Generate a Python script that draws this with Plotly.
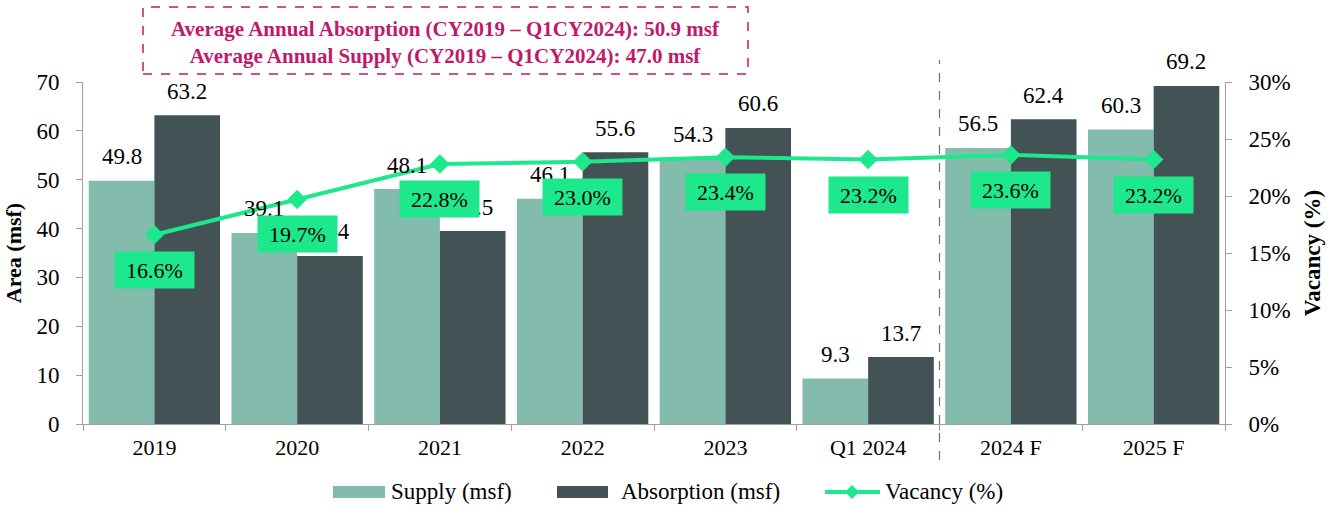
import plotly.graph_objects as go

categories = ["2019", "2020", "2021", "2022", "2023", "Q1 2024", "2024 F", "2025 F"]
supply = [49.8, 39.1, 48.1, 46.1, 54.3, 9.3, 56.5, 60.3]
absorption = [63.2, 34.4, 39.5, 55.6, 60.6, 13.7, 62.4, 69.2]
vacancy = [16.6, 19.7, 22.8, 23.0, 23.4, 23.2, 23.6, 23.2]
series_names = ["Supply (msf)", "Absorption (msf)", "Vacancy (%)"]

FONT = "Liberation Serif"
SUP_C = "#83bbad"
ABS_C = "#435255"
VAC_C = "#1de88c"
BOX_C = "#c2186b"

W, H = 1337, 506
ML, MR, MT, MB = 83, 112, 82, 82
PW, PH = W - ML - MR, H - MT - MB
BARGAP = 0.08
BAR_PX = PW / len(categories) * (1 - BARGAP) / 2


def px_x(p):
    return (p - ML) / PW


def px_y(p):
    return (H - MB - p) / PH


fig = go.Figure()
fig.add_trace(go.Bar(x=categories, y=supply, name=series_names[0], marker_color=SUP_C,
                     marker_line_width=0, showlegend=False))
fig.add_trace(go.Bar(x=categories, y=absorption, name=series_names[1], marker_color=ABS_C,
                     marker_line_width=0, showlegend=False))
fig.add_trace(go.Scatter(
    x=categories, y=vacancy, name=series_names[2], yaxis="y2", mode="lines+markers",
    line=dict(color=VAC_C, width=4), marker=dict(symbol="diamond", size=15, color=VAC_C),
    cliponaxis=False, showlegend=False,
))

# bar value labels (placed above each bar of the group)
for i, (s, a) in enumerate(zip(supply, absorption)):
    for val, sh in ((s, -BAR_PX / 2), (a, BAR_PX / 2)):
        fig.add_annotation(x=i, y=val, xref="x", yref="y", xshift=sh, yshift=24,
                           text=f"{val:.1f}", showarrow=False, xanchor="center", yanchor="middle",
                           font=dict(size=23, color="black", family=FONT))

# vacancy labels
for i, v in enumerate(vacancy):
    fig.add_annotation(
        x=i, y=v, xref="x", yref="y2", yshift=-35, text=f"{v:.1f}%", showarrow=False,
        xanchor="center", yanchor="middle", width=79, height=36, borderpad=0,
        bgcolor=VAC_C, font=dict(size=22, color="black", family=FONT),
    )

# summary box
fig.add_shape(type="rect", xref="paper", yref="paper", x0=px_x(143), x1=px_x(748),
              y0=px_y(74), y1=px_y(7),
              line=dict(color=BOX_C, width=1.5, dash="dash"), fillcolor="rgba(0,0,0,0)")
fig.add_annotation(
    xref="paper", yref="paper", x=px_x(445.5), y=px_y(42), showarrow=False,
    xanchor="center", yanchor="middle",
    text="<b>Average Annual Absorption (CY2019 – Q1CY2024): 50.9 msf<br>Average Annual Supply (CY2019 – Q1CY2024): 47.0 msf</b>",
    font=dict(size=21, color=BOX_C, family=FONT), align="center",
)

# separator between actual and forecast
fig.add_shape(type="line", xref="x", yref="paper", x0=5.5, x1=5.5, y0=px_y(460), y1=px_y(60),
              line=dict(color="#707070", width=1.2, dash="dash"))

# legend (drawn manually to match wide swatches)
LEG_Y = 492
fig.add_shape(type="rect", xref="paper", yref="paper", x0=px_x(333), x1=px_x(385),
              y0=px_y(498), y1=px_y(486), fillcolor=SUP_C, line_width=0)
fig.add_shape(type="rect", xref="paper", yref="paper", x0=px_x(557), x1=px_x(608),
              y0=px_y(498), y1=px_y(486), fillcolor=ABS_C, line_width=0)
fig.add_shape(type="line", xref="paper", yref="paper", x0=px_x(825), x1=px_x(880),
              y0=px_y(LEG_Y), y1=px_y(LEG_Y), line=dict(color=VAC_C, width=4))
dx, dy = 7 / PW, 7 / PH
cx, cy = px_x(852), px_y(LEG_Y)
fig.add_shape(type="path", xref="paper", yref="paper",
              path=f"M {cx - dx} {cy} L {cx} {cy + dy} L {cx + dx} {cy} L {cx} {cy - dy} Z",
              fillcolor=VAC_C, line_width=0)
for name, x0 in zip(series_names, (389, 619, 883)):
    fig.add_annotation(xref="paper", yref="paper", x=px_x(x0), y=px_y(LEG_Y), text=name,
                       showarrow=False, xanchor="left", yanchor="middle",
                       font=dict(size=23, color="black", family=FONT))

fig.update_layout(
    width=W, height=H,
    margin=dict(l=ML, r=MR, t=MT, b=MB, autoexpand=False),
    plot_bgcolor="white", paper_bgcolor="white",
    barmode="group", bargap=BARGAP, bargroupgap=0,
    font=dict(family=FONT, color="black"),
    showlegend=False,
    xaxis=dict(type="category", categoryorder="array", categoryarray=categories,
               range=[-0.5, len(categories) - 0.5], autorange=False,
               showline=True, linecolor="#a0a0a0", ticks="outside",
               tickson="boundaries", tickcolor="#a0a0a0", ticklen=6, ticklabelstandoff=4,
               tickfont=dict(size=22, family=FONT), showgrid=False, tickangle=0),
    yaxis=dict(range=[0, 70], dtick=10, showline=True, linecolor="#a0a0a0", ticks="outside",
               tickcolor="#a0a0a0", ticklen=6, ticklabelstandoff=12,
               tickfont=dict(size=23, family=FONT), showgrid=False, zeroline=False,
               title=dict(text="<b>Area (msf)</b>", font=dict(size=22, family=FONT), standoff=8)),
    yaxis2=dict(range=[0, 30], dtick=5, ticksuffix="%", overlaying="y", side="right",
                showline=True, linecolor="#a0a0a0", ticks="outside", tickcolor="#a0a0a0",
                ticklen=6, ticklabelstandoff=12, tickfont=dict(size=23, family=FONT),
                showgrid=False, zeroline=False,
                title=dict(text="<b>Vacancy (%)</b>", font=dict(size=23, family=FONT), standoff=14)),
)

fig.write_html("out.html", config={"displayModeBar": False},
               post_script="document.body.style.margin='0';")
